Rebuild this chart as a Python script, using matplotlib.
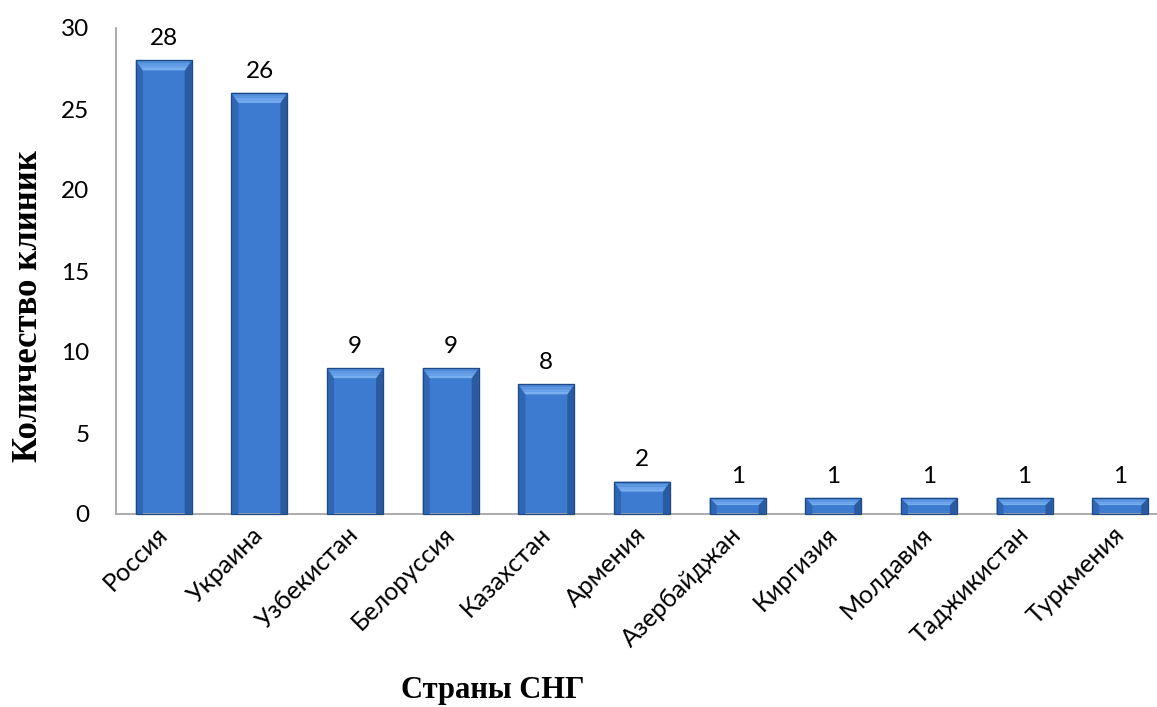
import matplotlib
matplotlib.use("Agg")
import matplotlib.pyplot as plt
from matplotlib.patches import Polygon
from matplotlib.transforms import IdentityTransform

countries = ["Россия", "Украина", "Узбекистан", "Белоруссия", "Казахстан", "Армения",
             "Азербайджан", "Киргизия", "Молдавия", "Таджикистан", "Туркмения"]
clinics = [28, 26, 9, 9, 8, 2, 1, 1, 1, 1, 1]
y_ticks = [0, 5, 10, 15, 20, 25, 30]

DPI = 100
fig = plt.figure(figsize=(11.57, 7.07), dpi=DPI)
ax = fig.add_axes([116 / 1157, (707 - 514) / 707, (1168 - 116) / 1157, (514 - 28) / 707])

x = list(range(len(countries)))
bars = ax.bar(x, clinics, width=0.585, color="#3c7bcf", edgecolor="#24508f",
              linewidth=0.8, zorder=2)

ax.set_xlim(-0.5, len(countries) - 0.5)
ax.set_ylim(0, 30)
ax.set_yticks(y_ticks)
ax.set_xticks(x)
ax.set_xticklabels(countries, rotation=45, ha="right", va="center",
                   rotation_mode="anchor", fontfamily="Lato", fontsize=18)
ax.set_yticklabels([str(v) for v in y_ticks], fontfamily="Lato", fontsize=17.5)
ax.tick_params(axis="y", length=0, pad=19)
ax.tick_params(axis="x", length=0, pad=12)

for s in ("top", "right"):
    ax.spines[s].set_visible(False)
for s in ("left", "bottom"):
    ax.spines[s].set_color("#a6a6a6")
    ax.spines[s].set_linewidth(1.3)
ax.spines["bottom"].set_zorder(3)

ax.set_ylabel("Количество клиник", fontfamily="Liberation Serif", fontweight="bold",
              fontsize=25)
ax.set_xlabel("Страны СНГ", fontfamily="Liberation Serif", fontweight="bold",
              fontsize=22)
ax.yaxis.set_label_coords(-0.0675, 0.428)
ax.xaxis.set_label_coords(0.358, -0.333)

# value labels above each bar
for xi, v in zip(x, clinics):
    ax.annotate(str(v), (xi, v), xytext=(0, 8), textcoords="offset points",
                ha="center", va="bottom", fontfamily="Lato", fontsize=17.5)

# bevelled edges on each bar, built from the bar's own screen extent
fig.canvas.draw()
ident = IdentityTransform()
top_shades = ["#4f8ad9", "#5e98e3", "#6ca4ea", "#79aeef"]
for bar in bars:
    bb = bar.get_window_extent()
    x0, x1, y0, y1 = bb.x0, bb.x1, bb.y0, bb.y1
    b = min(10.0, (y1 - y0) * 0.45)
    s = 7.0
    left = Polygon([(x0, y1), (x0 + s, y1 - b), (x0 + s, y0), (x0, y0)],
                   closed=True, facecolor="#3067b4", edgecolor="none",
                   transform=ident, zorder=2.5)
    right = Polygon([(x1, y1), (x1 - s, y1 - b), (x1 - s, y0), (x1, y0)],
                    closed=True, facecolor="#2a5aa0", edgecolor="none",
                    transform=ident, zorder=2.5)
    fig.add_artist(left)
    fig.add_artist(right)
    n = len(top_shades)
    for i, c in enumerate(top_shades):
        f0, f1 = i / n, (i + 1) / n
        band = Polygon([(x0 + s * f0, y1 - b * f0), (x1 - s * f0, y1 - b * f0),
                        (x1 - s * f1, y1 - b * f1), (x0 + s * f1, y1 - b * f1)],
                       closed=True, facecolor=c, edgecolor="none",
                       transform=ident, zorder=2.55)
        fig.add_artist(band)
    outline = Polygon([(x0, y0), (x0, y1), (x1, y1), (x1, y0)], closed=True,
                      facecolor="none", edgecolor="#1f4a85", linewidth=0.9,
                      transform=ident, zorder=2.6)
    fig.add_artist(outline)

fig.savefig("out.png", dpi=DPI)
